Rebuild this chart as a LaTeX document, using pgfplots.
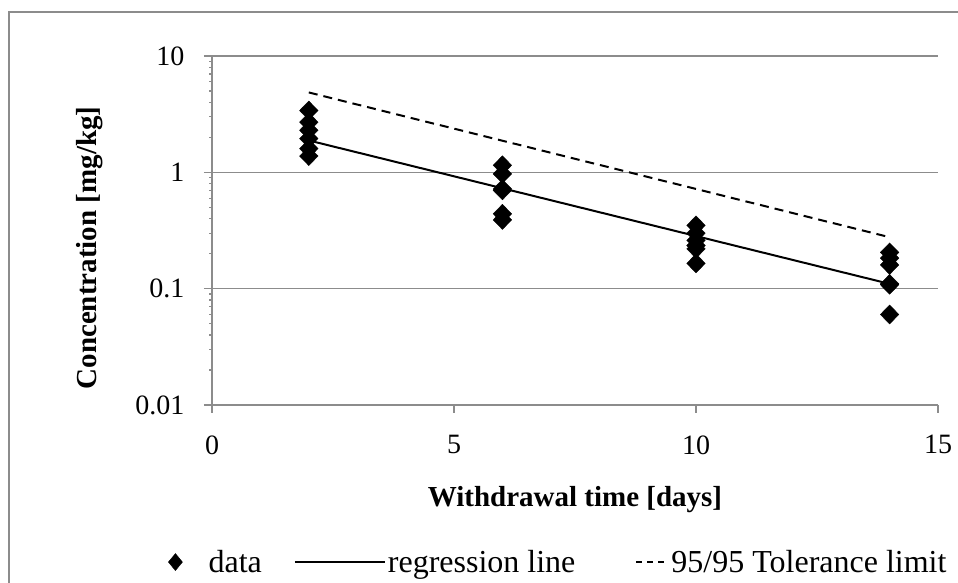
\documentclass[border=0pt]{standalone}
\usepackage{pgfplots}
\pgfplotsset{compat=1.18}
\usepackage{fontspec}
\setmainfont{Liberation Serif}

% residue concentrations per sampling day
\pgfplotstableread{
day conc
2 3.4
2 2.7
2 2.3
2 1.95
2 1.6
2 1.38
6 1.15
6 0.97
6 0.72
6 0.70
6 0.44
6 0.39
10 0.35
10 0.30
10 0.26
10 0.235
10 0.22
10 0.165
14 0.205
14 0.183
14 0.16
14 0.11
14 0.108
14 0.06
}\datatable

\definecolor{axgray}{gray}{0.55}

\begin{document}
\begin{tikzpicture}
\useasboundingbox (0pt,0pt) rectangle (958pt,582pt);
% outer chart frame
\draw[axgray, line width=2.2pt] (9pt,-2pt) -- (9pt,570pt) -- (960pt,570pt);
\begin{axis}[
  at={(212pt,177pt)}, anchor=south west,
  width=726pt, height=349pt, scale only axis,
  xmin=0, xmax=15, ymin=0.01, ymax=10,
  ymode=log,
  xtick={0,5,10,15},
  ytick={0.01,0.1,1,10},
  yticklabels={0.01,0.1,1,10},
  minor ytick={},
  axis x line*=bottom, axis y line*=left,
  axis line style={axgray, line width=1.2pt, -},
  ymajorgrids,
  grid style={axgray, line width=1.2pt},
  tick style={axgray, line width=1.2pt},
  tick align=outside, major tick length=8pt,
  ticklabel style={font=\fontsize{28}{30}\selectfont},
  /pgf/number format/assume math mode=true,
  xticklabel style={yshift=-19pt},
  yticklabel style={xshift=-16pt},
  xlabel={Withdrawal time [days]},
  ylabel={Concentration [mg/kg]},
  label style={font=\fontsize{29}{32}\selectfont\bfseries},
  xlabel style={at={(axis description cs:0.50,-0.272)}, anchor=center},
  ylabel style={at={(axis description cs:-0.168,0.45)}, anchor=center},
  clip=false,
  legend columns=3,
  legend cell align=left,
  legend style={draw=none, fill=none, at={(axis description cs:-0.0647,-0.45)}, anchor=west,
    font=\fontsize{32}{36}\selectfont, inner sep=0pt,
    nodes={inner sep=2pt},
    /tikz/every even column/.append style={column sep=30pt}},
]
\addplot[only marks, mark=diamond*, mark size=9.5pt, mark options={xscale=1.3, fill=black, draw=black},
  legend image code/.code={\draw[only marks, mark=diamond*, mark size=8.5pt, mark options={xscale=1.1}] plot coordinates {(1pt,0pt)}; \path (-9pt,0pt) (32pt,0pt);}]
  table[x=day, y=conc] {\datatable};
\addlegendentry{data}
\addplot[black, line width=2pt, legend image code/.code={\draw[black, line width=2pt] (0pt,0pt) -- (90pt,0pt);}]
  coordinates {(2,1.88) (14,0.11)};
\addlegendentry{regression line}
\addplot[black, line width=2pt, dash pattern=on 9pt off 6pt, legend image code/.code={\path (0pt,0pt); \draw[black, line width=2pt, dash pattern=on 6pt off 5pt] (28pt,0pt) -- (60pt,0pt);}]
  coordinates {(2,4.86) (14,0.277)};
\addlegendentry{95/95 Tolerance limit}
\end{axis}
\end{tikzpicture}
\end{document}
